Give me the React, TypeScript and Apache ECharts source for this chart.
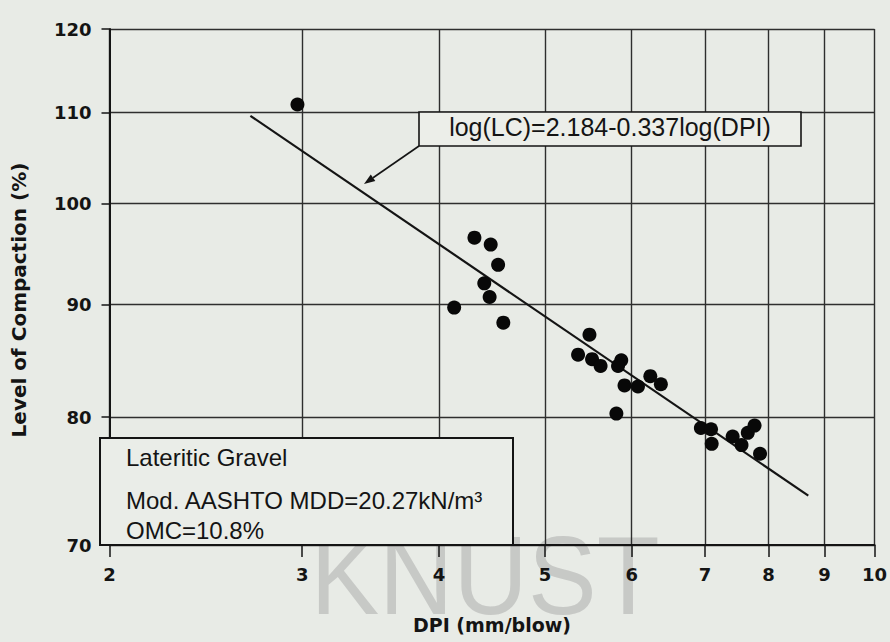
import { useEffect, useRef } from "react";
import * as echarts from "echarts";

// Measured data (DPI in mm/blow, Level of Compaction in %)
const DPI = [2.97, 4.31, 4.46, 4.53, 4.40, 4.45, 4.13, 4.58, 5.49, 5.36, 5.52, 5.62, 5.87, 5.83, 5.91, 6.08, 6.24, 6.38, 5.81, 6.94, 7.09, 7.10, 7.42, 7.56, 7.66, 7.77, 7.86];
const LC = [110.9, 96.5, 95.8, 93.8, 92.0, 90.7, 89.7, 88.3, 87.2, 85.4, 85.0, 84.4, 84.9, 84.4, 82.7, 82.6, 83.5, 82.8, 80.3, 79.1, 79.0, 77.8, 78.4, 77.7, 78.7, 79.3, 77.0];
// Regression line end points as drawn
const FIT_DPI = [2.69, 8.70];
const FIT_LC = [109.6, 73.7];
// Axis ticks
const X_TICKS = [2, 3, 4, 5, 6, 7, 8, 9, 10];
const Y_TICKS = [70, 80, 90, 100, 110, 120];
// Annotation texts
const EQUATION = "log(LC)=2.184-0.337log(DPI)";
const NOTE_LINES = ["Lateritic Gravel", "Mod. AASHTO MDD=20.27kN/m\u00b3", "OMC=10.8%"];
const X_NAME = "DPI (mm/blow)";
const Y_NAME = "Level of Compaction (%)";
const WATERMARK = "KNUST";

const BG = "#e8ebe6";
const INK = "#141414";
const GRIDC = "#2e2e2e";
const TICK_FONT = "DejaVu Sans";
const NOTE_FONT = "Liberation Sans";

export default function App() {
  const ref = useRef<HTMLDivElement>(null);

  useEffect(() => {
    if (!ref.current) return;
    const chart = echarts.init(ref.current, undefined, { renderer: "svg" });
    const lg = (v: number) => Math.log10(v);
    const fmt = (v: number) => String(Math.round(Math.pow(10, v)));

    // arrow geometry
    const a0 = [419, 146];
    const a1 = [364, 184];
    const dx = a1[0] - a0[0];
    const dy = a1[1] - a0[1];
    const len = Math.hypot(dx, dy);
    const ux = dx / len;
    const uy = dy / len;
    const hl = 11;
    const hw = 4;
    const bx = a1[0] - ux * hl;
    const by = a1[1] - uy * hl;
    const head = [
      [a1[0], a1[1]],
      [bx + -uy * hw, by + ux * hw],
      [bx - -uy * hw, by - ux * hw],
    ];

    const option: any = {
      animation: false,
      backgroundColor: BG,
      grid: { left: 109.5, right: 10, top: 29, bottom: 97, containLabel: false },
      xAxis: {
        type: "value",
        min: lg(2),
        max: 1,
        axisLine: { show: true, onZero: false, lineStyle: { color: INK, width: 2 } },
        axisTick: {
          show: true,
          inside: false,
          length: 12,
          customValues: X_TICKS.map(lg),
          lineStyle: { color: INK, width: 1.5 },
        },
        axisLabel: {
          customValues: X_TICKS.map(lg),
          formatter: fmt,
          margin: 20,
          color: INK,
          fontFamily: TICK_FONT,
          fontWeight: "bold",
          fontSize: 18,
        },
        splitLine: { show: true, lineStyle: { color: GRIDC, width: 1.4 } },
        name: X_NAME,
        nameLocation: "middle",
        nameGap: 70,
        nameTextStyle: { color: INK, fontFamily: TICK_FONT, fontWeight: "bold", fontSize: 19 },
      },
      yAxis: {
        type: "value",
        min: lg(70),
        max: lg(120),
        axisLine: { show: true, onZero: false, lineStyle: { color: INK, width: 2 } },
        axisTick: {
          show: true,
          inside: false,
          length: 8,
          customValues: Y_TICKS.map(lg),
          lineStyle: { color: INK, width: 1.5 },
        },
        axisLabel: {
          customValues: Y_TICKS.map(lg),
          formatter: fmt,
          margin: 18,
          color: INK,
          fontFamily: TICK_FONT,
          fontWeight: "bold",
          fontSize: 18,
        },
        splitLine: { show: true, lineStyle: { color: GRIDC, width: 1.4 } },
      },
      series: [
        {
          type: "line",
          data: FIT_DPI.map((d, i) => [lg(d), lg(FIT_LC[i])]),
          showSymbol: false,
          symbol: "none",
          lineStyle: { color: INK, width: 2.2 },
          z: 3,
          silent: true,
        },
        {
          type: "scatter",
          data: DPI.map((d, i) => [lg(d), lg(LC[i])]),
          symbol: "circle",
          symbolSize: 14,
          itemStyle: { color: "#080808", opacity: 1 },
          z: 4,
          silent: true,
        },
      ],
      graphic: [
        {
          type: "text",
          z: -1,
          x: 485,
          y: 575,
          scaleX: 0.92,
          style: {
            text: WATERMARK,
            fontFamily: NOTE_FONT,
            fontSize: 112,
            fill: "rgba(160,160,160,0.45)",
            align: "center",
            verticalAlign: "middle",
          },
        },
        {
          type: "text",
          z: 10,
          x: 19,
          y: 300,
          rotation: Math.PI / 2,
          style: {
            text: Y_NAME,
            fontFamily: TICK_FONT,
            fontWeight: "bold",
            fontSize: 20,
            fill: INK,
            align: "center",
            verticalAlign: "middle",
          },
        },
        // equation label
        {
          type: "rect",
          z: 50,
          shape: { x: 419, y: 112, width: 382, height: 34 },
          style: { fill: "#eceee9", stroke: INK, lineWidth: 1.6 },
        },
        {
          type: "text",
          z: 51,
          x: 610,
          y: 127,
          style: {
            text: EQUATION,
            fontFamily: NOTE_FONT,
            fontSize: 25,
            fill: INK,
            align: "center",
            verticalAlign: "middle",
          },
        },
        {
          type: "line",
          z: 50,
          shape: { x1: a0[0], y1: a0[1], x2: bx, y2: by },
          style: { stroke: INK, lineWidth: 1.6 },
        },
        {
          type: "polygon",
          z: 50,
          shape: { points: head },
          style: { fill: INK },
        },
        // info box
        {
          type: "rect",
          z: 50,
          shape: { x: 100, y: 438, width: 413, height: 107 },
          style: { fill: "#eaede8", stroke: INK, lineWidth: 2 },
        },
        ...NOTE_LINES.map((t, i) => ({
          type: "text",
          z: 51,
          x: 126,
          y: [457, 500, 530][i],
          style: {
            text: t,
            fontFamily: NOTE_FONT,
            fontSize: 24,
            fill: INK,
            align: "left",
            verticalAlign: "middle",
          },
        })),
      ],
    };

    chart.setOption(option);
    return () => chart.dispose();
  }, []);

  return (
    <div
      ref={ref}
      style={{ position: "fixed", left: 0, top: 0, width: 890, height: 642 }}
    />
  );
}
